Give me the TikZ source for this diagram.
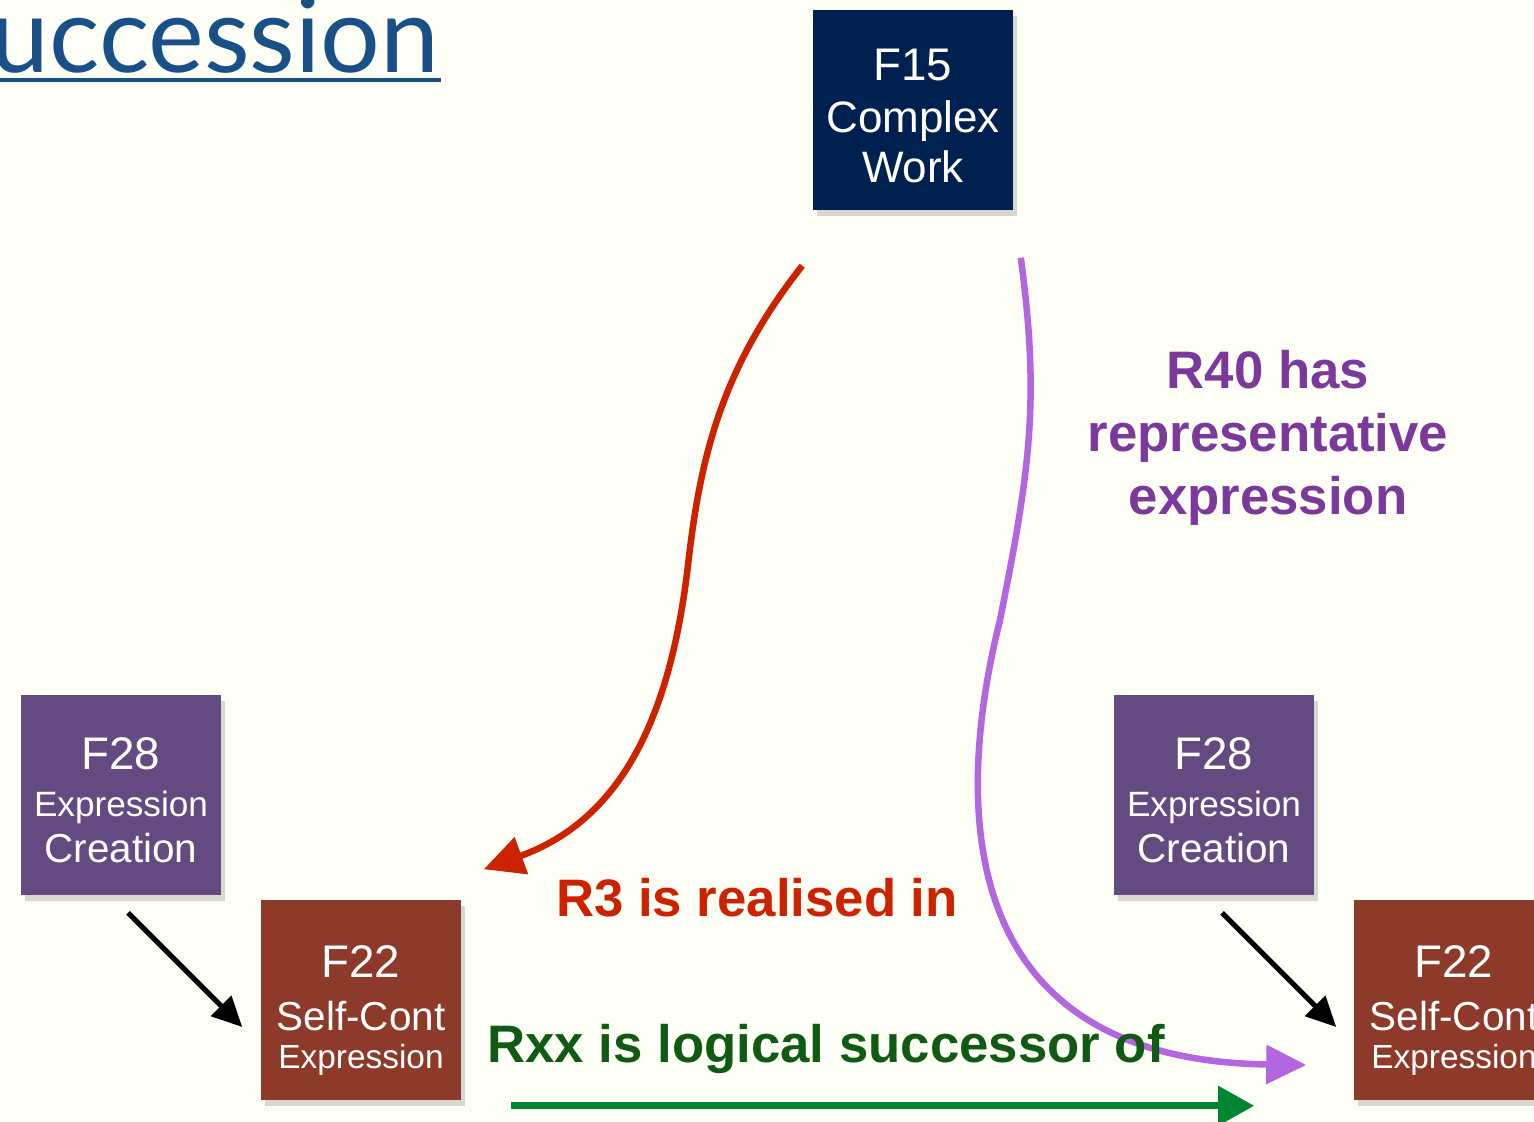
\documentclass[tikz,border=0pt]{standalone}
\usepackage{fontspec}
\setmainfont{Liberation Sans}
\newfontfamily\titlefont{Lato}
\usetikzlibrary{arrows.meta,positioning,calc,shadows}

\definecolor{bgcream}{RGB}{253,254,245}
\definecolor{worknavy}{RGB}{0,33,80}
\definecolor{creapurple}{RGB}{99,74,128}
\definecolor{exprbrown}{RGB}{142,58,42}
\definecolor{rthree}{RGB}{204,34,0}
\definecolor{rfortyline}{RGB}{178,102,224}
\definecolor{rfortytext}{RGB}{123,57,155}
\definecolor{rxxline}{RGB}{0,133,48}
\definecolor{rxxtext}{RGB}{16,90,20}
\definecolor{titleblue}{RGB}{26,80,136}

% first line of a box, pushed down a little
\newcommand{\topline}[1]{\rule{0pt}{#1}}

\begin{document}
\begin{tikzpicture}[x=0.01cm,y=-0.01cm,
  entity/.style={minimum width=2cm,minimum height=2cm,inner sep=0pt,
    text=white,align=center,
    drop shadow={shadow xshift=0.4mm,shadow yshift=-0.6mm,opacity=0.3}},
  work/.style={entity,fill=worknavy,font=\fontsize{12.5}{14.2}\selectfont},
  creation/.style={entity,fill=creapurple,font=\fontsize{11.5}{13.2}\selectfont},
  expression/.style={entity,fill=exprbrown,font=\fontsize{11.5}{13}\selectfont},
  relname/.style={font=\fontsize{15}{18}\selectfont\bfseries,align=center},
  makes/.style={line width=0.5mm,-{Triangle[length=3mm,width=2.8mm]}},
  curvy/.style={line width=0.65mm,-{Triangle[length=4mm,width=3.8mm]}}]

  % Canvas
  \useasboundingbox (0,0) rectangle (1534,1122);
  \clip (0,0) rectangle (1534,1122);
  \fill[bgcream] (0,0) rectangle (1534,1122);

  % Title
  \node[anchor=base east,inner sep=0pt,text=titleblue,
    font=\titlefont\fontsize{30}{30}\selectfont] (title) at (440,73) {Succession};
  \draw[titleblue,line width=0.4mm] (0,80) -- (441,80);

  % Entities
  \node[work] (f15) at (913,110)
    {\fontsize{13}{14}\selectfont\topline{12.4pt}F15\\[0.8pt]\fontsize{12.5}{14}\selectfont Complex\\\fontsize{12.5}{14}\selectfont Work};
  \node[creation] (f28l) at (121,795)
    {\fontsize{13}{13}\selectfont\topline{12.2pt}F28\\\fontsize{10}{13}\selectfont Expression\\\fontsize{11.5}{13}\selectfont Creation};
  \node[expression] (f22l) at (361,1000)
    {\fontsize{13}{14}\selectfont\topline{15.1pt}F22\\[2pt]\fontsize{11.5}{14}\selectfont Self-Cont\\[-2pt]\fontsize{9.5}{11.5}\selectfont Expression};
  \node[creation] (f28r) at (1214,795)
    {\fontsize{13}{13}\selectfont\topline{12.2pt}F28\\\fontsize{10}{13}\selectfont Expression\\\fontsize{11.5}{13}\selectfont Creation};
  \node[expression] (f22r) at (1454,1000)
    {\fontsize{13}{14}\selectfont\topline{15.1pt}F22\\[2pt]\fontsize{11.5}{14}\selectfont Self-Cont\\[-2pt]\fontsize{9.5}{11.5}\selectfont Expression};

  % Creation arrows
  \draw[makes] ([shift={(7,17)}]f28l.south) -- ([shift={(-18,27)}]f22l.west);
  \draw[makes] ([shift={(8,17)}]f28r.south) -- ([shift={(-17,27)}]f22r.west);

  % R3
  \draw[curvy,rthree] ([shift={(-10,55)}]f15.south west)
    .. controls (720,370) and (700,460) .. (688,565)
    .. controls (670,720) and (620,820) .. ([shift={(22,-30)}]f22l.north east);

  % R40
  \draw[curvy,rfortyline] ([shift={(7,47)}]f15.south east)
    .. controls (1040,400) and (1030,470) .. (1000,620)
    .. controls (955,800) and (950,1060) .. ([shift={(-47,65)}]f22r.west);

  % Rxx
  \draw[rxxline,line width=0.7mm,-{Triangle[length=3.6mm,width=3.8mm]}]
    ([shift={(49,5)}]f22l.south east) -- ([shift={(-99,5)}]f22r.south west);

  % Labels
  \node[relname,text=rthree] (r3) at (757,898) {R3 is realised in};
  \node[relname,text=rfortytext] (r40) at (1268,438) {R40 has\\representative\\expression};
  \node[relname,text=rxxtext] (rxx) at (826,1049) {Rxx is logical successor of};
\end{tikzpicture}
\end{document}
